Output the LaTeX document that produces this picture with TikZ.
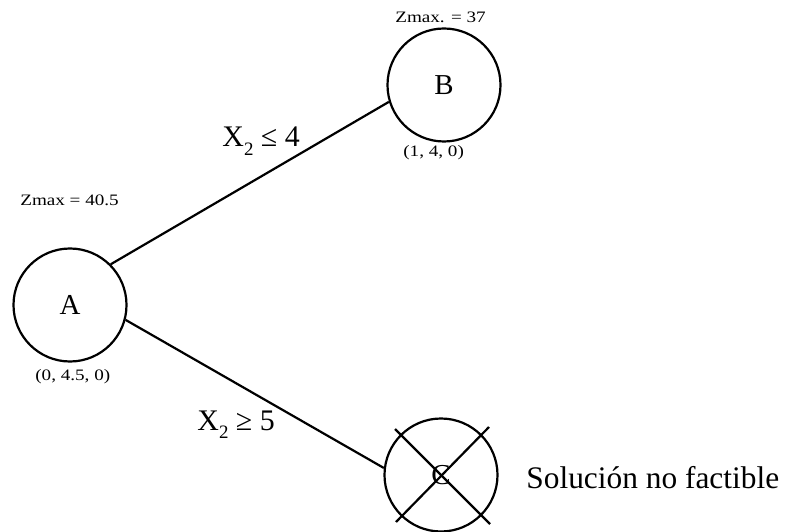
\documentclass[tikz,border=0pt]{standalone}
\usepackage{fontspec}
\setmainfont{Liberation Serif}
\usetikzlibrary{positioning}

\newcommand{\sub}[1]{\raisebox{-0.28em}{\fontsize{19}{20}\selectfont #1}}

\begin{document}
\begin{tikzpicture}[x=1bp,y=-1bp,line width=2.2bp,
    estado/.style={circle,draw,minimum size=113bp,inner sep=0pt,font=\fontsize{29}{32}\selectfont},
    rama/.style={anchor=base west,font=\fontsize{30}{34}\selectfont},
    dato/.style={anchor=base west,inner sep=0pt,xscale=1.2,font=\fontsize{16}{18}\selectfont}]
    \useasboundingbox (0,0) rectangle (787,532);
    % nodos del arbol
    \node[estado] (A) at (70,305) {A};
    \node[estado] (B) at (444,85) {B};
    \node[estado] (C) at (441,475) {C};
    \draw ([shift={(-46,-46)}]C.center) -- ([shift={(49,49)}]C.center);
    \draw ([shift={(48,-48)}]C.center) -- ([shift={(-45,47)}]C.center);
    % ramas
    \draw (A.45) -- (B.197);
    \draw (A.345) -- (C.173);
    \node[rama] (r1) at (218,147) {X\sub{2} ≤ 4};
    \node[rama] (r2) at (193,430) {X\sub{2} ≥ 5};
    % valores
    \node[dato] (zA) at (19,206) {Zmax = 40.5};
    \node[dato] (zB) at (394,23) {Zmax. = 37};
    \node[dato] (pA) at (34,380) {(0, 4.5, 0)};
    \node[dato] (pB) at (402,157) {(1, 4, 0)};
    \node[rama,font=\fontsize{31.5}{34}\selectfont] (nf) at (522,488) {Solución no factible};
\end{tikzpicture}
\end{document}
